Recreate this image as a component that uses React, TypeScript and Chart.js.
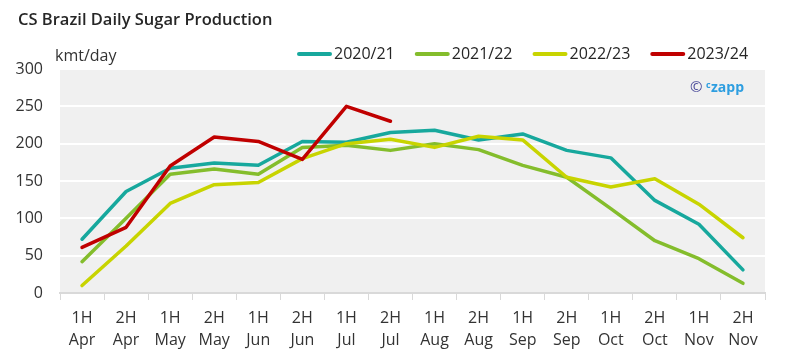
import React, { useEffect, useRef } from "react";
import { Chart, registerables } from "chart.js";

Chart.register(...registerables);

const categories: string[][] = [
  ["1H", "Apr"], ["2H", "Apr"], ["1H", "May"], ["2H", "May"],
  ["1H", "Jun"], ["2H", "Jun"], ["1H", "Jul"], ["2H", "Jul"],
  ["1H", "Aug"], ["2H", "Aug"], ["1H", "Sep"], ["2H", "Sep"],
  ["1H", "Oct"], ["2H", "Oct"], ["1H", "Nov"], ["2H", "Nov"],
];

const s2020_21 = [72, 136, 167, 174, 171, 203, 202, 215, 218, 205, 213, 191, 181, 124, 92, 31];
const s2021_22 = [42, 100, 159, 166, 159, 195, 198, 191, 200, 192, 171, 155, 113, 70, 46, 13];
const s2022_23 = [10, 63, 120, 145, 148, 180, 200, 206, 195, 210, 205, 155, 142, 153, 119, 74];
const s2023_24 = [61, 88, 170, 209, 203, 179, 250, 230];

const seriesNames = ["2020/21", "2021/22", "2022/23", "2023/24"];
const seriesColors = ["#17a89d", "#84bd2c", "#c8d400", "#c00000"];
const yTicks = [0, 50, 100, 150, 200, 250, 300];

const FONT = "'Open Sans', 'Noto Sans', sans-serif";

const decor = {
  id: "decor",
  beforeDraw(chart: any) {
    const { ctx, chartArea: a } = chart;
    ctx.save();
    ctx.fillStyle = "#f0f0f0";
    ctx.fillRect(a.left, a.top, a.right - a.left, a.bottom - a.top);
    ctx.restore();
  },
  afterDraw(chart: any) {
    const { ctx } = chart;
    ctx.save();
    // title
    ctx.fillStyle = "#262626";
    ctx.font = `600 16.5px ${FONT}`;
    ctx.textBaseline = "alphabetic";
    ctx.textAlign = "left";
    ctx.fillText("CS Brazil Daily Sugar Production", 18, 25);
    // unit
    ctx.font = `16px ${FONT}`;
    ctx.fillStyle = "#333333";
    ctx.textBaseline = "middle";
    ctx.fillText("kmt/day", 55, 56);
    // legend
    let x = 297;
    const ly = 54;
    for (let i = 0; i < seriesNames.length; i++) {
      ctx.strokeStyle = seriesColors[i];
      ctx.lineWidth = 4;
      ctx.lineCap = "round";
      ctx.beginPath();
      ctx.moveTo(x + 2, ly);
      ctx.lineTo(x + 33, ly);
      ctx.stroke();
      ctx.fillStyle = "#262626";
      ctx.font = `16px ${FONT}`;
      ctx.fillText(seriesNames[i], x + 37, ly);
      x += 37 + ctx.measureText(seriesNames[i]).width + 20;
    }
    // watermark
    ctx.textBaseline = "middle";
    ctx.fillStyle = "#4a4a9a";
    ctx.font = `15px ${FONT}`;
    ctx.fillText("©", 690, 88);
    ctx.fillStyle = "#2e9ee0";
    ctx.font = `bold 9px ${FONT}`;
    ctx.fillText("c", 706, 85);
    ctx.font = `bold 14px ${FONT}`;
    ctx.fillText("zapp", 711, 88);
    ctx.restore();
  },
};

export default function App() {
  const ref = useRef<HTMLCanvasElement | null>(null);
  useEffect(() => {
    if (!ref.current) return;
    const mk = (i: number, data: number[], order: number) => ({
      label: seriesNames[i],
      data,
      borderColor: seriesColors[i],
      backgroundColor: seriesColors[i],
      borderWidth: 3.5,
      pointRadius: 0,
      tension: 0,
      borderCapStyle: "round" as const,
      borderJoinStyle: "round" as const,
      order,
    });
    const chart = new Chart(ref.current, {
      type: "line",
      data: {
        labels: categories,
        datasets: [
          mk(0, s2020_21, 3),
          mk(1, s2021_22, 2),
          mk(2, s2022_23, 1),
          mk(3, s2023_24, 0),
        ],
      },
      options: {
        responsive: false,
        animation: false,
        layout: { padding: { top: 69, right: 37, left: 0, bottom: 0 } },
        plugins: {
          legend: { display: false },
          title: { display: false },
          tooltip: { enabled: false },
        },
        scales: {
          x: {
            offset: true,
            grid: {
              offset: true,
              drawOnChartArea: false,
              drawTicks: true,
              tickLength: 7,
              color: "#d9d9d9",
            },
            border: { color: "#d9d9d9", width: 2 },
            ticks: {
              padding: 7,
              color: "#333333",
              font: { family: FONT, size: 16, lineHeight: 1.4 },
              maxRotation: 0,
              autoSkip: false,
            },
            afterFit: (s: any) => { s.height = 68; },
          },
          y: {
            min: 0,
            max: 300,
            afterBuildTicks: (s: any) => { s.ticks = yTicks.map((v) => ({ value: v })); },
            grid: { color: "#ffffff", lineWidth: 2, drawTicks: false },
            border: { display: false },
            ticks: {
              padding: 17,
              color: "#333333",
              font: { family: FONT, size: 16 },
            },
            afterFit: (s: any) => { s.width = 60; },
          },
        },
      },
      plugins: [decor],
    });
    return () => chart.destroy();
  }, []);
  return (
    <div style={{ position: "fixed", left: 0, top: 0, width: 802, height: 361, background: "#fff" }}>
      <canvas ref={ref} width={802} height={361} style={{ display: "block" }} />
    </div>
  );
}
